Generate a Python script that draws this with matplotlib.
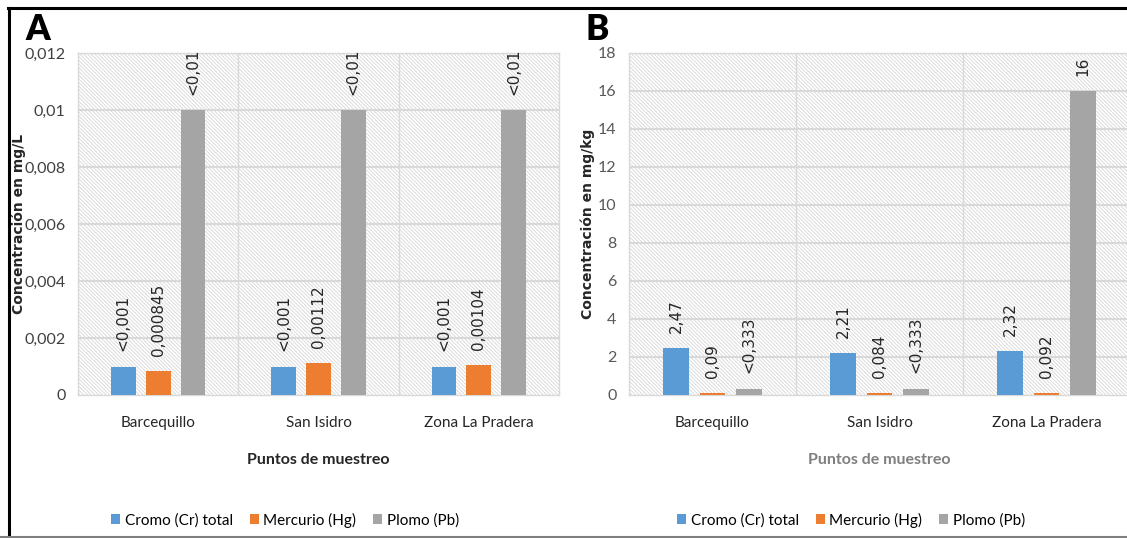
import matplotlib
matplotlib.use('Agg')
import matplotlib.pyplot as plt
from matplotlib.patches import Rectangle, Patch
from matplotlib.lines import Line2D
from matplotlib.ticker import FuncFormatter
import numpy as np

#Data
sitios = ['Barcequillo', 'San Isidro', 'Zona La Pradera']
series = ['Cromo (Cr) total', 'Mercurio (Hg)', 'Plomo (Pb)']

agua_cromo = [0.001, 0.001, 0.001]
agua_mercurio = [0.000845, 0.00112, 0.00104]
agua_plomo = [0.01, 0.01, 0.01]
agua_etiquetas = [['<0,001', '<0,001', '<0,001'],
                  ['0,000845', '0,00112', '0,00104'],
                  ['<0,01', '<0,01', '<0,01']]

suelo_cromo = [2.47, 2.21, 2.32]
suelo_mercurio = [0.09, 0.084, 0.092]
suelo_plomo = [0.333, 0.333, 16]
suelo_etiquetas = [['2,47', '2,21', '2,32'],
                   ['0,09', '0,084', '0,092'],
                   ['<0,333', '<0,333', '16']]

colores = ['#5b9bd5', '#ed7d31', '#a5a5a5']

W, H = 1127, 538
narrow = ['Lato', 'DejaVu Sans'] #Lato is close to Calibri
plt.rcParams['hatch.linewidth'] = 0.6

fig = plt.figure(figsize=(W / 100, H / 100), dpi=100)


def px_axes(left, top, right, bottom):
	return fig.add_axes([left / W, 1 - bottom / H, (right - left) / W, (bottom - top) / H])


def coma(v, pos):
	s = ('%.3f' % v).rstrip('0').rstrip('.')
	return s.replace('.', ',')


def panel(ax, valores, etiquetas, ymax, ystep, tick_color, xlab_color):
	ax.set_xlim(-0.5, 2.5)
	ax.set_ylim(0, ymax)
	ax.add_patch(Rectangle((0, 0), 1, 1, transform=ax.transAxes, facecolor='white',
		edgecolor='#d6d6d6', hatch='\\' * 9, linewidth=0, zorder=0))
	ax.patch.set_alpha(0)
	for y in np.arange(ystep, ymax + ystep / 2, ystep):
		ax.axhline(y, color='#d9d9d9', lw=1.5, zorder=1)
	for x in [0.5, 1.5]:
		ax.axvline(x, color='#d9d9d9', lw=1.0, zorder=1)
	x = np.arange(len(sitios))
	ancho = 0.155
	desp = 0.217
	for i, serie in enumerate(valores):
		pos = x + (i - 1) * desp
		ax.bar(pos, serie, width=ancho, color=colores[i], zorder=3)
		for xp, v, t in zip(pos, serie, etiquetas[i]):
			ax.annotate(t, (xp, v), xytext=(0, 11), textcoords='offset points',
				rotation=90, ha='center', va='bottom', fontsize=11,
				family='DejaVu Sans', color='#262626')
	for s in ax.spines.values():
		s.set_color('#d9d9d9')
		s.set_linewidth(1.0)
	ax.set_yticks(np.arange(0, ymax + ystep / 2, ystep))
	ax.yaxis.set_major_formatter(FuncFormatter(coma))
	ax.set_xticks(x)
	ax.set_xticklabels(sitios)
	ax.tick_params(axis='y', length=0, pad=9, labelsize=11.5, labelcolor=tick_color)
	ax.tick_params(axis='x', length=0, pad=15, labelsize=11, labelcolor='#262626')
	for lab in ax.get_xticklabels() + ax.get_yticklabels():
		lab.set_family(narrow)
	ax.text(0.5, -65 / 342, 'Puntos de muestreo', transform=ax.transAxes, ha='center',
		va='center', fontsize=11.5, fontweight='bold', family=narrow, color=xlab_color)
	return ax


#Panel A: water
axA = px_axes(78, 53, 559, 395)
panel(axA, [agua_cromo, agua_mercurio, agua_plomo], agua_etiquetas, 0.012, 0.002,
	'#404040', '#262626')
axA.text((19 - 78) / 481, 0.5, 'Concentración en mg/L', transform=axA.transAxes, rotation=90,
	ha='center', va='center', fontsize=10, fontweight='bold', family='DejaVu Sans', color='#262626')

#Panel B: soil
axB = px_axes(629, 53, 1130, 395)
panel(axB, [suelo_cromo, suelo_mercurio, suelo_plomo], suelo_etiquetas, 18, 2,
	'#595959', '#7f7f7f')
axB.text((588 - 629) / 501, 0.5, 'Concentración en mg/kg', transform=axB.transAxes, rotation=90,
	ha='center', va='center', fontsize=10, fontweight='bold', family='DejaVu Sans', color='#262626')

#Panel letters
fig.text(38 / W, 1 - 30 / H, 'A', ha='center', va='center', fontsize=25, fontweight='heavy',
	family=narrow, color='black')
fig.text(597 / W, 1 - 30 / H, 'B', ha='center', va='center', fontsize=25, fontweight='heavy',
	family=narrow, color='black')

#Legends
handles = [Patch(facecolor=c, edgecolor='none') for c in colores]
for cx in [285, 851]:
	fig.legend(handles, series, loc='center', bbox_to_anchor=(cx / W, 1 - 520 / H), ncol=3,
		frameon=False, handlelength=0.6, handleheight=0.6, handletextpad=0.3,
		columnspacing=1.1, prop={'family': narrow, 'size': 11})

#Frame lines
fig.add_artist(Line2D([8 / W, 1], [1 - 8 / H, 1 - 8 / H], color='black', lw=2.2))
fig.add_artist(Line2D([9 / W, 9 / W], [0, 1 - 8 / H], color='black', lw=2.2))
fig.add_artist(Line2D([0, 1], [1 / H, 1 / H], color='#7f7f7f', lw=1.5))

fig.savefig('out.png', dpi=100)
